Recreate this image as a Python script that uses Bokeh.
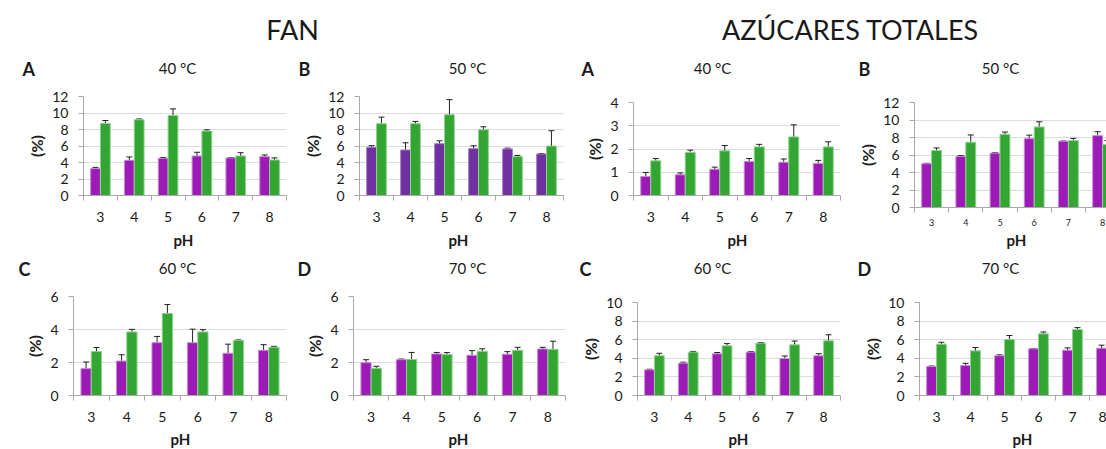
from bokeh.plotting import figure
from bokeh.layouts import column, row
from bokeh.models import ColumnDataSource, Whisker, TeeHead, FixedTicker, Label, Range1d
from bokeh.embed import file_html
from bokeh.resources import INLINE

# ---------------- data ----------------
ph = [3, 4, 5, 6, 7, 8]
ph_labels = ["3", "4", "5", "6", "7", "8"]

header_left = "FAN"
header_right = "AZÚCARES TOTALES"
x_title = "pH"
y_title = "(%)"

# FAN
fan40_s1 = [3.26, 4.27, 4.51, 4.79, 4.55, 4.71]
fan40_s1_err = [0.15, 0.40, 0.10, 0.45, 0.05, 0.20]
fan40_s2 = [8.74, 9.18, 9.70, 7.81, 4.79, 4.31]
fan40_s2_err = [0.35, 0.10, 0.80, 0.15, 0.40, 0.25]

fan50_s1 = [5.84, 5.52, 6.28, 5.68, 5.64, 5.03]
fan50_s1_err = [0.20, 0.87, 0.35, 0.35, 0.10, 0.05]
fan50_s2 = [8.70, 8.70, 9.79, 7.97, 4.71, 6.00]
fan50_s2_err = [0.80, 0.28, 1.83, 0.36, 0.15, 1.85]

fan60_s1 = [1.63, 2.09, 3.20, 3.20, 2.56, 2.74]
fan60_s1_err = [0.40, 0.38, 0.38, 0.82, 0.55, 0.34]
fan60_s2 = [2.66, 3.85, 4.97, 3.85, 3.34, 2.92]
fan60_s2_err = [0.25, 0.16, 0.54, 0.14, 0.03, 0.06]

fan70_s1 = [1.99, 2.17, 2.52, 2.44, 2.50, 2.82]
fan70_s1_err = [0.18, 0.04, 0.09, 0.28, 0.16, 0.10]
fan70_s2 = [1.65, 2.19, 2.48, 2.68, 2.74, 2.80]
fan70_s2_err = [0.12, 0.42, 0.12, 0.15, 0.18, 0.49]

# AZÚCARES TOTALES
az40_s1 = [0.82, 0.89, 1.13, 1.46, 1.43, 1.38]
az40_s1_err = [0.17, 0.08, 0.09, 0.13, 0.14, 0.13]
az40_s2 = [1.49, 1.85, 1.92, 2.09, 2.52, 2.09]
az40_s2_err = [0.10, 0.10, 0.23, 0.11, 0.52, 0.22]

az50_s1 = [5.00, 5.83, 6.21, 7.87, 7.57, 8.21]
az50_s1_err = [0.05, 0.10, 0.05, 0.40, 0.02, 0.45]
az50_s2 = [6.51, 7.46, 8.36, 9.20, 7.65, 7.19]
az50_s2_err = [0.30, 0.83, 0.26, 0.60, 0.25, 0.45]

az60_s1 = [2.76, 3.48, 4.48, 4.66, 3.98, 4.27]
az60_s1_err = [0.06, 0.10, 0.14, 0.06, 0.27, 0.23]
az60_s2 = [4.27, 4.66, 5.34, 5.63, 5.45, 5.88]
az60_s2_err = [0.27, 0.08, 0.24, 0.06, 0.41, 0.65]

az70_s1 = [3.12, 3.23, 4.27, 5.02, 4.87, 5.09]
az70_s1_err = [0.05, 0.23, 0.10, 0.04, 0.25, 0.32]
az70_s2 = [5.52, 4.80, 6.02, 6.63, 7.10, 8.17]
az70_s2_err = [0.20, 0.36, 0.43, 0.20, 0.20, 0.50]

yticks_12 = [0, 2, 4, 6, 8, 10, 12]
yticks_4 = [0, 1, 2, 3, 4]
yticks_6 = [0, 2, 4, 6]
yticks_10 = [0, 2, 4, 6, 8, 10]

# ---------------- style ----------------
FONT = "Lato"
TXT = "#1a1a1a"
AXIS = "#a9a9a9"
GRID = "#dcdcdc"
PURPLE = "#9c1bb6"
PURPLE_DARK = "#7030a0"
GREEN = "#33a533"
GREEN_EDGE = "#8fd28f"
PURPLE_EDGE = "#c98bd6"
PURPLE_DARK_EDGE = "#a27fc4"
OFF = 0.145
BW = 0.29
TOTAL_W = 1106
LBL_SHIFT = 8   # measured offset of screen-unit labels


def blank(height):
    f = figure(width=TOTAL_W, height=height, x_range=Range1d(0, TOTAL_W),
               y_range=Range1d(0, height), output_backend="svg",
               toolbar_location=None, x_axis_type=None, y_axis_type=None,
               min_border=0)
    f.outline_line_color = None
    f.grid.visible = False
    return f


def text(f, x, baseline_from_top, s, size, bold=False, align="center"):
    h = f.height
    f.add_layout(Label(x=x, y=h + LBL_SHIFT - baseline_from_top,
                       x_units="screen", y_units="screen", text=s,
                       text_font=FONT, text_font_size=size,
                       text_font_style="bold" if bold else "normal",
                       text_color=TXT, text_align=align,
                       text_baseline="alphabetic"))


def panel(s1, e1, s2, e2, yticks, width, height, left, right, top, bottom,
          purple, purple_edge, xend=8.5, xtick_size="14px", xtick_standoff=11):
    p = figure(width=width, height=height, x_range=Range1d(2.5, xend),
               y_range=Range1d(0, yticks[-1]), output_backend="svg",
               toolbar_location=None, min_border_left=left, min_border_right=right,
               min_border_top=top, min_border_bottom=bottom)
    try:
        p.frame_align = False
    except Exception:
        pass
    p.outline_line_color = None
    src = ColumnDataSource(dict(
        ph=ph,
        xp=[v - OFF for v in ph], xg=[v + OFF for v in ph],
        s1=s1, s2=s2,
        s1lo=[a - b for a, b in zip(s1, e1)], s1hi=[a + b for a, b in zip(s1, e1)],
        s2lo=[a - b for a, b in zip(s2, e2)], s2hi=[a + b for a, b in zip(s2, e2)],
    ))
    p.vbar(x="xp", top="s1", width=BW, source=src, fill_color=purple,
           line_color=purple_edge, line_width=1)
    p.vbar(x="xg", top="s2", width=BW, source=src, fill_color=GREEN,
           line_color=GREEN_EDGE, line_width=1)
    for base, lo, hi in (("xp", "s1lo", "s1hi"), ("xg", "s2lo", "s2hi")):
        w = Whisker(source=src, base=base, lower=lo, upper=hi, dimension="height",
                    line_color="#222222", line_width=1,
                    upper_head=TeeHead(size=6, line_color="#222222", line_width=1),
                    lower_head=TeeHead(size=6, line_color="#222222", line_width=1))
        p.add_layout(w)

    p.xgrid.visible = False
    p.ygrid.grid_line_color = GRID
    p.ygrid.grid_line_width = 1

    p.xaxis.ticker = FixedTicker(ticks=ph, minor_ticks=[v - 0.5 for v in ph] + [ph[-1] + 0.5])
    p.xaxis.major_label_overrides = {v: s for v, s in zip(ph, ph_labels)}
    p.xaxis.major_tick_out = 0
    p.xaxis.major_tick_in = 0
    p.xaxis.minor_tick_out = 5
    p.xaxis.minor_tick_in = 0
    p.xaxis.minor_tick_line_color = AXIS
    p.xaxis.axis_line_color = AXIS
    p.xaxis.major_label_text_font = FONT
    p.xaxis.major_label_text_font_size = xtick_size
    p.xaxis.major_label_text_color = TXT
    p.xaxis.major_label_standoff = xtick_standoff

    p.yaxis.ticker = FixedTicker(ticks=yticks, minor_ticks=[])
    p.yaxis.major_tick_out = 5
    p.yaxis.major_tick_in = 0
    p.yaxis.major_tick_line_color = AXIS
    p.yaxis.axis_line_color = AXIS
    p.yaxis.major_label_text_font = FONT
    p.yaxis.major_label_text_font_size = "14px"
    p.yaxis.major_label_text_color = TXT
    p.yaxis.major_label_standoff = 10
    p.yaxis.axis_label = y_title
    p.yaxis.axis_label_text_font = FONT
    p.yaxis.axis_label_text_font_size = "16px"
    p.yaxis.axis_label_text_font_style = "bold"
    p.yaxis.axis_label_text_color = TXT
    p.yaxis.axis_label_standoff = 3
    return p


# header  (page y 0..42)
hdr = blank(42)
text(hdr, 292, 37, header_left, "27px")
text(hdr, 850, 37, header_right, "27px")

# letters / temperatures, row 1  (page y 42..78)
st1 = blank(36)
for x, s in ((22, "A"), (298, "B"), (581, "A"), (858, "B")):
    text(st1, x, 76 - 42, s, "18px", bold=True, align="left")
for x, s in ((177, "40 °C"), (467, "50 °C"), (712, "40 °C"), (1000, "50 °C")):
    text(st1, x, 75 - 42, s, "15px")

# row 1 panels  (page y 78..232)
R1 = 154
p1 = panel(fan40_s1, fan40_s1_err, fan40_s2, fan40_s2_err, yticks_12,
           290, R1, 83, 4, 18, 37, PURPLE, PURPLE_EDGE)
p2 = panel(fan50_s1, fan50_s1_err, fan50_s2, fan50_s2_err, yticks_12,
           280, R1, 69, 7, 18, 37, PURPLE_DARK, PURPLE_DARK_EDGE)
p3 = panel(az40_s1, az40_s1_err, az40_s2, az40_s2_err, yticks_4,
           280, R1, 63, 10, 24, 37, PURPLE, PURPLE_EDGE)
p4 = panel(az50_s1, az50_s1_err, az50_s2, az50_s2_err, yticks_12,
           256, R1, 64, 0, 24, 25, PURPLE, PURPLE_EDGE,
           xend=2.5 + 192 / 34.2, xtick_size="9px", xtick_standoff=6)

# pH titles row 1  (page y 232..250)
ph1 = blank(18)
for x in (183, 458, 737, 1016):
    text(ph1, x, 247 - 232, x_title, "15px", bold=True)

# letters / temperatures, row 2  (page y 250..278)
st2 = blank(28)
for x, s in ((18, "C"), (297, "D"), (579, "C"), (857, "D")):
    text(st2, x, 276 - 250, s, "18px", bold=True, align="left")
for x, s in ((177, "60 °C"), (467, "70 °C"), (712, "60 °C"), (1000, "70 °C")):
    text(st2, x, 275 - 250, s, "15px")

# row 2 panels  (page y 278..428)
R2 = 150
p5 = panel(fan60_s1, fan60_s1_err, fan60_s2, fan60_s2_err, yticks_6,
           290, R2, 73, 4, 18, 33, PURPLE, PURPLE_EDGE)
p6 = panel(fan70_s1, fan70_s1_err, fan70_s2, fan70_s2_err, yticks_6,
           280, R2, 63, 5, 18, 33, PURPLE, PURPLE_EDGE)
p7 = panel(az60_s1, az60_s1_err, az60_s2, az60_s2_err, yticks_10,
           280, R2, 67, 10, 24, 33, PURPLE, PURPLE_EDGE)
p8 = panel(az70_s1, az70_s1_err, az70_s2, az70_s2_err, yticks_10,
           256, R2, 69, 0, 24, 33, PURPLE, PURPLE_EDGE,
           xend=2.5 + 187 / 34.0)

# pH titles row 2  (page y 428..449)
ph2 = blank(21)
for x in (180, 458, 738, 1022):
    text(ph2, x, 446 - 428, x_title, "15px", bold=True)

layout = column(hdr, st1, row(p1, p2, p3, p4), ph1, st2, row(p5, p6, p7, p8), ph2)
open("out.html", "w").write(file_html(layout, INLINE))
